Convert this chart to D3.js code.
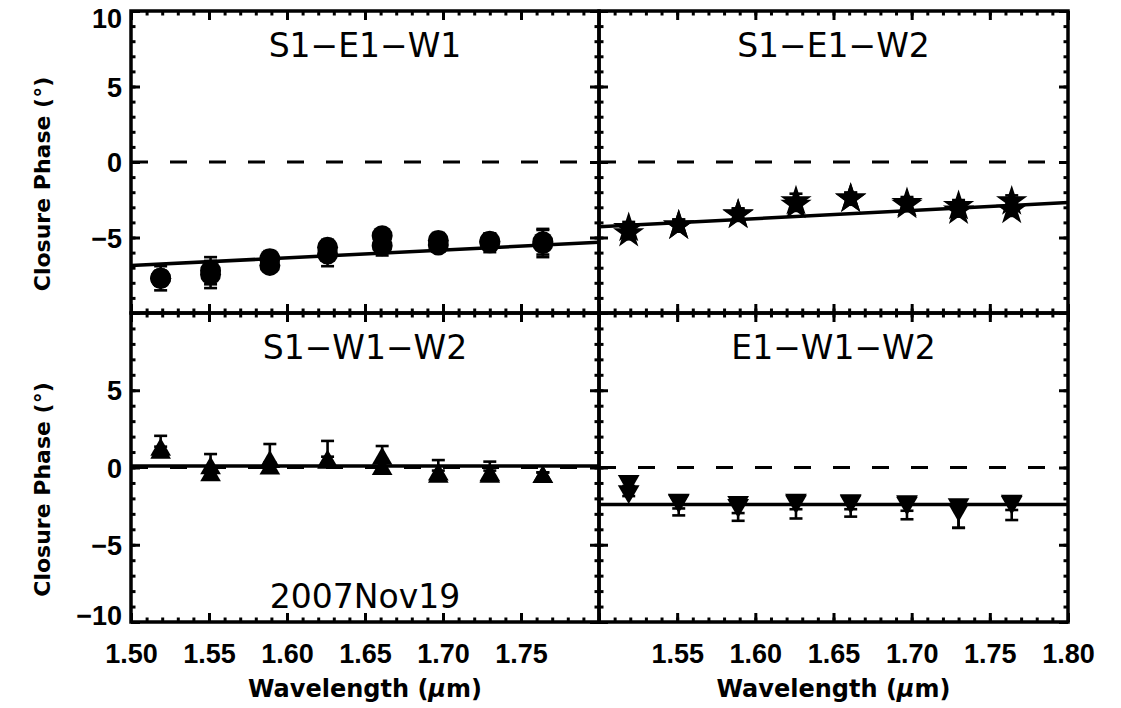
<!DOCTYPE html>
<html>
<head>
<meta charset="utf-8">
<script src="https://cdn.jsdelivr.net/npm/d3@7"></script>
<style>
  html, body { margin: 0; padding: 0; background: #fff; }
  svg text { font-family: "DejaVu Sans", sans-serif; fill: #000; }
</style>
</head>
<body>
<svg id="chart" width="1121" height="708"></svg>
<script>
// ---------------- DATA ----------------
const wavelengths = [1.519, 1.551, 1.589, 1.626, 1.661, 1.697, 1.730, 1.764];

const panelTitles = ["S1\u2212E1\u2212W1", "S1\u2212E1\u2212W2", "S1\u2212W1\u2212W2", "E1\u2212W1\u2212W2"];
const dateLabel = "2007Nov19";

// S1-E1-W1 (filled circles)
const s1e1w1_a     = [-7.70, -7.20, -6.40, -5.65, -4.88, -5.20, -5.25, -5.28];
const s1e1w1_a_err = [0.80, 0.90, 0.50, 0.50, 0.40, 0.50, 0.50, 0.85];
const s1e1w1_b     = [-7.70, -7.45, -6.85, -6.10, -5.54, -5.50, -5.35, -5.40];
const s1e1w1_b_err = [0.50, 0.90, 0.40, 0.80, 0.65, 0.40, 0.62, 0.90];
const s1e1w1_fit   = [-6.86, -5.32];

// S1-E1-W2 (stars)
const s1e1w2_a     = [-4.37, -4.21, -3.47, -2.60, -2.43, -2.72, -2.92, -2.61];
const s1e1w2_a_err = [0.40, 0.40, 0.40, 0.50, 0.40, 0.40, 0.40, 0.40];
const s1e1w2_b     = [-4.72, -4.21, -3.50, -2.84, -2.43, -2.84, -3.22, -3.17];
const s1e1w2_b_err = [0.40, 0.40, 0.40, 0.40, 0.40, 0.40, 0.40, 0.40];
const s1e1w2_fit   = [-4.29, -2.68];

// S1-W1-W2 (up triangles)
const s1w1w2_a     = [1.15, -0.05, 0.36, 0.40, 0.57, -0.45, -0.50, -0.62];
const s1w1w2_a_err = [0.90, 0.92, 1.16, 1.32, 0.82, 0.93, 0.88, 0.30];
const s1w1w2_b     = [0.95, -0.50, -0.07, 0.30, -0.10, -0.60, -0.60, -0.62];
const s1w1w2_b_err = [0.40, 0.40, 0.40, 0.40, 0.50, 0.40, 0.40, 0.30];
const s1w1w2_fit   = [0.10, 0.10];

// E1-W1-W2 (down triangles)
const e1w1w2_a     = [-0.90, -2.10, -2.25, -2.10, -2.13, -2.20, -2.40, -2.17];
const e1w1w2_a_err = [0.30, 1.00, 1.20, 1.20, 1.05, 1.15, 1.50, 1.23];
const e1w1w2_b     = [-1.55, -2.15, -2.45, -2.20, -2.20, -2.30, -2.71, -2.25];
const e1w1w2_b_err = [0.30, 0.50, 0.50, 0.50, 0.50, 0.50, 1.20, 0.50];
const e1w1w2_fit   = [-2.40, -2.40];

const fitWavelengths = [1.50, 1.80];

const xDomain = [1.50, 1.80];
const yDomain = [-10, 10];
const xMajorTicks = [1.50, 1.55, 1.60, 1.65, 1.70, 1.75, 1.80];
const xMinorTicks = d3.range(150, 181, 1).map(v => v / 100);
const yMajorTicks = [-10, -5, 0, 5, 10];
const yMinorTicks = d3.range(-10, 11, 1);

const xTitleMain = "Wavelength (";
const xTitleMu = "\u03BC";
const xTitleEnd = "m)";
const yTitle = "Closure Phase (\u00B0)";

// ---------------- LAYOUT ----------------
const svg = d3.select("#chart");
const X0 = 131, XM = 599, X1 = 1068;
const Y0 = 11, YM = 313, Y1 = 622;

const panels = [
  { title: panelTitles[0], a: s1e1w1_a, ae: s1e1w1_a_err, b: s1e1w1_b, be: s1e1w1_b_err, fit: s1e1w1_fit,
    x: [X0, XM], y: [YM, Y0], sym: "circle", errSide: "both", yLabels: [10, 5, 0, -5], xLabels: [], ytitle: true },
  { title: panelTitles[1], a: s1e1w2_a, ae: s1e1w2_a_err, b: s1e1w2_b, be: s1e1w2_b_err, fit: s1e1w2_fit,
    x: [XM, X1], y: [YM, Y0], sym: "star", errSide: "both", yLabels: [], xLabels: [], ytitle: false },
  { title: panelTitles[2], a: s1w1w2_a, ae: s1w1w2_a_err, b: s1w1w2_b, be: s1w1w2_b_err, fit: s1w1w2_fit,
    x: [X0, XM], y: [Y1, YM], sym: "up", errSide: "up", yLabels: [5, 0, -5, -10], xLabels: [1.50, 1.55, 1.60, 1.65, 1.70, 1.75], ytitle: true, date: true },
  { title: panelTitles[3], a: e1w1w2_a, ae: e1w1w2_a_err, b: e1w1w2_b, be: e1w1w2_b_err, fit: e1w1w2_fit,
    x: [XM, X1], y: [Y1, YM], sym: "down", errSide: "down", yLabels: [], xLabels: [1.55, 1.60, 1.65, 1.70, 1.75, 1.80], ytitle: false }
];

const symGen = {
  circle: d3.symbol(d3.symbolCircle, Math.PI * 10.5 * 10.5),
  star: d3.symbol(d3.symbolStar, 305),
  up: d3.symbol(d3.symbolTriangle, 185),
  down: d3.symbol(d3.symbolTriangle, 205)
};

const fmtY = d3.format("d");
const fmtX = d3.format(".2f");
const TICK_W = 3, BORDER_W = 3.5;
const TICK_FONT = "Liberation Sans";

panels.forEach(p => {
  const x = d3.scaleLinear(xDomain, p.x);
  const y = d3.scaleLinear(yDomain, p.y);
  const g = svg.append("g");

  // zero dashed line
  g.append("line")
    .attr("x1", x(xDomain[0])).attr("x2", x(xDomain[1]))
    .attr("y1", y(0)).attr("y2", y(0))
    .attr("stroke", "#000").attr("stroke-width", 3.2)
    .attr("stroke-dasharray", "17,22");

  // fit line
  g.append("path")
    .datum(fitWavelengths.map((w, i) => [w, p.fit[i]]))
    .attr("fill", "none").attr("stroke", "#000").attr("stroke-width", 3.5)
    .attr("d", d3.line().x(d => x(d[0])).y(d => y(d[1])));

  // data
  const pts = [];
  wavelengths.forEach((w, i) => {
    pts.push({ w, v: p.a[i], e: p.ae[i] });
    pts.push({ w, v: p.b[i], e: p.be[i] });
  });

  const eb = g.append("g").attr("stroke", "#000").attr("stroke-width", 2.6);
  pts.forEach(d => {
    const cx = x(d.w);
    const lo = p.errSide === "up" ? d.v : d.v - d.e;
    const hi = p.errSide === "down" ? d.v : d.v + d.e;
    eb.append("line").attr("x1", cx).attr("x2", cx).attr("y1", y(lo)).attr("y2", y(hi));
    const caps = [];
    if (p.errSide !== "up") caps.push(d.v - d.e);
    if (p.errSide !== "down") caps.push(d.v + d.e);
    caps.forEach(v => {
      eb.append("line").attr("x1", cx - 6.5).attr("x2", cx + 6.5).attr("y1", y(v)).attr("y2", y(v));
    });
  });

  g.append("g").selectAll("path").data(pts).join("path")
    .attr("d", symGen[p.sym]())
    .attr("fill", "#000")
    .attr("transform", d => `translate(${x(d.w)},${y(d.v)})` + (p.sym === "down" ? " rotate(180)" : ""));

  // axes (inward ticks on all sides)
  function addAxis(axisFn, scale, pos, major, minor, labels, fmt, pad) {
    const ga = g.append("g").attr("transform", pos);
    ga.call(axisFn(scale).tickValues(minor).tickSize(-4.5).tickFormat(""));
    const gm = g.append("g").attr("transform", pos);
    gm.call(axisFn(scale).tickValues(major).tickSize(-9).tickPadding(pad)
      .tickFormat(v => labels.some(l => Math.abs(l - v) < 1e-9) ? fmt(v) : ""));
    [ga, gm].forEach(s => {
      s.select(".domain").remove();
      s.selectAll(".tick line").attr("stroke", "#000").attr("stroke-width", TICK_W);
    });
    gm.selectAll(".tick text").attr("font-size", 27).attr("font-weight", "bold").attr("fill", "#000")
      .style("font-family", TICK_FONT);
    return gm;
  }
  const gl = addAxis(d3.axisLeft, y, `translate(${p.x[0]},0)`, yMajorTicks, yMinorTicks, p.yLabels, fmtY, 9);
  // edge labels (10 at top, -10 at bottom) are nudged inside like the original
  gl.selectAll(".tick text").attr("dy", d => d === 10 ? "0.62em" : d === -10 ? "0.1em" : "0.36em");
  addAxis(d3.axisRight, y, `translate(${p.x[1]},0)`, yMajorTicks, yMinorTicks, [], fmtY, 9);
  addAxis(d3.axisTop, x, `translate(0,${p.y[1]})`, xMajorTicks, xMinorTicks, [], fmtX, 9);
  const gb = addAxis(d3.axisBottom, x, `translate(0,${p.y[0]})`, xMajorTicks, xMinorTicks, p.xLabels, fmtX, 0);
  gb.selectAll(".tick text").attr("y", 0).attr("dy", 0).attr("transform", `translate(0,${663 - p.y[0]})`);

  // border
  g.append("rect")
    .attr("x", p.x[0]).attr("y", p.y[1])
    .attr("width", p.x[1] - p.x[0]).attr("height", p.y[0] - p.y[1])
    .attr("fill", "none").attr("stroke", "#000").attr("stroke-width", BORDER_W);

  // title
  const midX = (p.x[0] + p.x[1]) / 2;
  g.append("text").attr("x", midX).attr("y", p.y[1] + 46)
    .attr("text-anchor", "middle").attr("font-size", 33).text(p.title);

  if (p.date) {
    g.append("text").attr("x", midX).attr("y", 608)
      .attr("text-anchor", "middle").attr("font-size", 33).text(dateLabel);
  }

  if (p.ytitle) {
    const cy = (p.y[0] + p.y[1]) / 2 + 22;
    g.append("text").attr("transform", `translate(50,${cy}) rotate(-90)`)
      .attr("text-anchor", "middle").attr("font-size", 22).attr("font-weight", "bold").text(yTitle);
  }
  if (p.xLabels.length) {
    const t = g.append("text").attr("x", midX).attr("y", 697)
      .attr("text-anchor", "middle").attr("font-size", 24).attr("font-weight", "bold");
    t.append("tspan").text(xTitleMain);
    t.append("tspan").attr("font-style", "italic").text(xTitleMu);
    t.append("tspan").text(xTitleEnd);
  }
});
</script>
</body>
</html>
